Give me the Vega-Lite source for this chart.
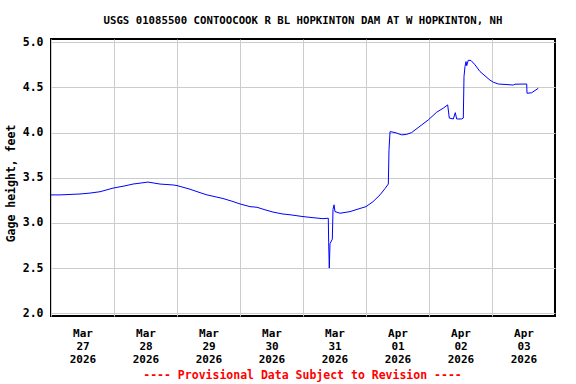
{
  "$schema": "https://vega.github.io/schema/vega-lite/v6.json",
  "width": 504,
  "height": 277,
  "autosize": "none",
  "padding": {"left": 51, "top": 39, "right": 21, "bottom": 68},
  "background": "white",
  "title": {
    "text": "USGS 01085500 CONTOOCOOK R BL HOPKINTON DAM AT W HOPKINTON, NH",
    "font": "DejaVu Sans Mono",
    "fontSize": 10.7,
    "fontWeight": "bold",
    "color": "black",
    "anchor": "middle",
    "baseline": "alphabetic",
    "offset": 1
  },
  "data": {
    "values": [
      {"t": "2026-03-27T00:00Z", "v": 3.31},
      {"t": "2026-03-27T03:26Z", "v": 3.31},
      {"t": "2026-03-27T07:14Z", "v": 3.315},
      {"t": "2026-03-27T11:03Z", "v": 3.32},
      {"t": "2026-03-27T14:51Z", "v": 3.33},
      {"t": "2026-03-27T18:40Z", "v": 3.345},
      {"t": "2026-03-27T23:37Z", "v": 3.385},
      {"t": "2026-03-28T04:11Z", "v": 3.41},
      {"t": "2026-03-28T07:14Z", "v": 3.43},
      {"t": "2026-03-28T09:54Z", "v": 3.44},
      {"t": "2026-03-28T12:57Z", "v": 3.452},
      {"t": "2026-03-28T17:31Z", "v": 3.43},
      {"t": "2026-03-28T22:29Z", "v": 3.42},
      {"t": "2026-03-29T00:00Z", "v": 3.413},
      {"t": "2026-03-29T04:57Z", "v": 3.373},
      {"t": "2026-03-29T08:46Z", "v": 3.335},
      {"t": "2026-03-29T11:26Z", "v": 3.31},
      {"t": "2026-03-29T14:29Z", "v": 3.29},
      {"t": "2026-03-29T17:31Z", "v": 3.27},
      {"t": "2026-03-29T20:57Z", "v": 3.24},
      {"t": "2026-03-30T00:00Z", "v": 3.21},
      {"t": "2026-03-30T03:49Z", "v": 3.18},
      {"t": "2026-03-30T06:29Z", "v": 3.173},
      {"t": "2026-03-30T09:31Z", "v": 3.145},
      {"t": "2026-03-30T12:34Z", "v": 3.12},
      {"t": "2026-03-30T16:00Z", "v": 3.1},
      {"t": "2026-03-30T19:03Z", "v": 3.09},
      {"t": "2026-03-31T00:00Z", "v": 3.07},
      {"t": "2026-03-31T03:49Z", "v": 3.058},
      {"t": "2026-03-31T07:37Z", "v": 3.047},
      {"t": "2026-03-31T09:38Z", "v": 3.052},
      {"t": "2026-03-31T09:47Z", "v": 2.78},
      {"t": "2026-03-31T10:01Z", "v": 2.5},
      {"t": "2026-03-31T10:17Z", "v": 2.77},
      {"t": "2026-03-31T11:10Z", "v": 2.82},
      {"t": "2026-03-31T11:26Z", "v": 3.15},
      {"t": "2026-03-31T11:49Z", "v": 3.2},
      {"t": "2026-03-31T12:11Z", "v": 3.125},
      {"t": "2026-03-31T14:06Z", "v": 3.107},
      {"t": "2026-03-31T17:54Z", "v": 3.125},
      {"t": "2026-03-31T21:43Z", "v": 3.16},
      {"t": "2026-04-01T00:00Z", "v": 3.18},
      {"t": "2026-04-01T02:40Z", "v": 3.235},
      {"t": "2026-04-01T05:20Z", "v": 3.31},
      {"t": "2026-04-01T07:14Z", "v": 3.38},
      {"t": "2026-04-01T08:30Z", "v": 3.43},
      {"t": "2026-04-01T08:46Z", "v": 3.81},
      {"t": "2026-04-01T09:09Z", "v": 4.01},
      {"t": "2026-04-01T11:03Z", "v": 4.0},
      {"t": "2026-04-01T13:36Z", "v": 3.974},
      {"t": "2026-04-01T15:30Z", "v": 3.98},
      {"t": "2026-04-01T17:24Z", "v": 4.0},
      {"t": "2026-04-01T20:34Z", "v": 4.07},
      {"t": "2026-04-01T23:44Z", "v": 4.14},
      {"t": "2026-04-02T02:56Z", "v": 4.225},
      {"t": "2026-04-02T05:27Z", "v": 4.27},
      {"t": "2026-04-02T07:07Z", "v": 4.306},
      {"t": "2026-04-02T07:44Z", "v": 4.16},
      {"t": "2026-04-02T09:16Z", "v": 4.15},
      {"t": "2026-04-02T10:01Z", "v": 4.22},
      {"t": "2026-04-02T10:33Z", "v": 4.15},
      {"t": "2026-04-02T12:27Z", "v": 4.15},
      {"t": "2026-04-02T13:04Z", "v": 4.16},
      {"t": "2026-04-02T13:20Z", "v": 4.62},
      {"t": "2026-04-02T13:43Z", "v": 4.73},
      {"t": "2026-04-02T14:06Z", "v": 4.785},
      {"t": "2026-04-02T14:22Z", "v": 4.74},
      {"t": "2026-04-02T14:58Z", "v": 4.8},
      {"t": "2026-04-02T16:00Z", "v": 4.797},
      {"t": "2026-04-02T17:31Z", "v": 4.75},
      {"t": "2026-04-02T19:26Z", "v": 4.675},
      {"t": "2026-04-02T21:20Z", "v": 4.627},
      {"t": "2026-04-02T23:14Z", "v": 4.58},
      {"t": "2026-04-03T00:30Z", "v": 4.557},
      {"t": "2026-04-03T02:24Z", "v": 4.537},
      {"t": "2026-04-03T08:07Z", "v": 4.526},
      {"t": "2026-04-03T08:46Z", "v": 4.535},
      {"t": "2026-04-03T13:13Z", "v": 4.537},
      {"t": "2026-04-03T13:20Z", "v": 4.435},
      {"t": "2026-04-03T15:07Z", "v": 4.44},
      {"t": "2026-04-03T16:23Z", "v": 4.465},
      {"t": "2026-04-03T17:38Z", "v": 4.49}
    ]
  },
  "mark": {"type": "line", "color": "#0000FF", "strokeWidth": 1, "interpolate": "linear"},
  "encoding": {
    "x": {
      "field": "t",
      "type": "temporal",
      "scale": {
        "type": "utc",
        "domain": [
          {"year": 2026, "month": 3, "date": 27, "utc": true},
          {"year": 2026, "month": 4, "date": 4, "utc": true}
        ]
      },
      "axis": {
        "values": [
          {"year": 2026, "month": 3, "date": 27, "utc": true},
          {"year": 2026, "month": 3, "date": 28, "utc": true},
          {"year": 2026, "month": 3, "date": 29, "utc": true},
          {"year": 2026, "month": 3, "date": 30, "utc": true},
          {"year": 2026, "month": 3, "date": 31, "utc": true},
          {"year": 2026, "month": 4, "date": 1, "utc": true},
          {"year": 2026, "month": 4, "date": 2, "utc": true},
          {"year": 2026, "month": 4, "date": 3, "utc": true}
        ],
        "labelExpr": "[utcFormat(datum.value, '%b'), utcFormat(datum.value, '%d'), utcFormat(datum.value, '%Y')]",
        "labelOffset": 31.5,
        "labelAlign": "center",
        "labelBaseline": "top",
        "labelPadding": 11,
        "labelLineHeight": 13,
        "labelFlush": false,
        "labelOverlap": false,
        "labelFont": "DejaVu Sans Mono",
        "labelFontWeight": "bold",
        "labelFontSize": 11,
        "labelColor": "black",
        "ticks": false,
        "domain": false,
        "grid": true,
        "gridColor": "#CCCCCC",
        "gridWidth": 1,
        "title": "---- Provisional Data Subject to Revision ----",
        "titleFont": "DejaVu Sans Mono",
        "titleFontWeight": "bold",
        "titleFontSize": 11.5,
        "titleColor": "#FF0000",
        "titleBaseline": "middle",
        "titleAlign": "center",
        "titleX": 251,
        "titleY": 59
      }
    },
    "y": {
      "field": "v",
      "type": "quantitative",
      "scale": {"domain": [1.97, 5.035], "nice": false, "zero": false},
      "axis": {
        "values": [2.0, 2.5, 3.0, 3.5, 4.0, 4.5, 5.0],
        "format": ".1f",
        "labelFont": "DejaVu Sans Mono",
        "labelFontWeight": "bold",
        "labelFontSize": 11.5,
        "labelColor": "black",
        "labelPadding": 8,
        "ticks": false,
        "domain": false,
        "grid": true,
        "gridColor": "#CCCCCC",
        "gridWidth": 1,
        "title": "Gage height, feet",
        "titleFont": "DejaVu Sans Mono",
        "titleFontWeight": "bold",
        "titleFontSize": 11.5,
        "titleColor": "black",
        "titleAngle": -90,
        "titleAlign": "center",
        "titleBaseline": "middle",
        "titleX": -40,
        "titleY": 144
      }
    }
  },
  "config": {
    "view": {"stroke": "black", "strokeWidth": 2}
  }
}
